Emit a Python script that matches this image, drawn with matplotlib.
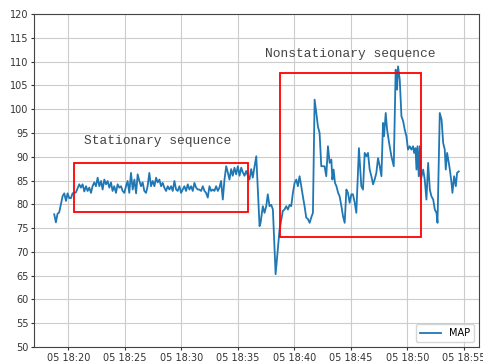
import pandas as pd
import matplotlib.pyplot as plt
import matplotlib.dates as mdates
from matplotlib.patches import Rectangle

# MAP samples: minutes after 18:00 and value
minutes = [
    18.76, 18.91, 19.05, 19.20, 19.50, 19.65, 19.80, 19.94, 20.09, 20.24, 20.38, 20.68,
    20.97, 21.12, 21.27, 21.42, 21.57, 21.71, 21.86, 22.01, 22.15, 22.30, 22.45, 22.60,
    22.75, 22.90, 23.04, 23.19, 23.34, 23.48, 23.63, 23.78, 23.92, 24.07, 24.22, 24.37,
    24.52, 24.67, 24.81, 24.96, 25.11, 25.25, 25.40, 25.55, 25.70, 25.85, 26.00, 26.14,
    26.29, 26.44, 26.58, 26.73, 26.88, 27.02, 27.17, 27.32, 27.47, 27.62, 27.77, 27.91,
    28.06, 28.21, 28.35, 28.50, 28.65, 28.80, 28.95, 29.10, 29.24, 29.39, 29.54, 29.68,
    29.83, 29.98, 30.12, 30.27, 30.42, 30.57, 30.72, 30.87, 31.01, 31.16, 31.31, 31.45,
    31.60, 31.75, 31.90, 32.05, 32.19, 32.34, 32.49, 32.64, 32.79, 32.93, 33.08, 33.23,
    33.37, 33.52, 33.67, 33.82, 33.97, 34.11, 34.26, 34.41, 34.55, 34.70, 34.85, 35.00,
    35.15, 35.30, 35.44, 35.59, 35.74, 35.89, 36.03, 36.18, 36.32, 36.48, 36.63, 36.92,
    37.01, 37.21, 37.36, 37.51, 37.65, 37.80, 37.95, 38.10, 38.34, 38.69, 38.98, 39.13,
    39.28, 39.43, 39.58, 39.72, 39.87, 40.02, 40.17, 40.31, 40.46, 40.61, 40.75, 40.90,
    41.05, 41.20, 41.35, 41.49, 41.64, 41.79, 41.94, 42.08, 42.23, 42.38, 42.52, 42.67,
    42.82, 42.97, 43.12, 43.27, 43.36, 43.47, 43.59, 43.72, 43.87, 44.00, 44.16, 44.30,
    44.45, 44.60, 44.74, 44.89, 45.04, 45.18, 45.34, 45.48, 45.71, 45.92, 46.07, 46.22,
    46.37, 46.51, 46.66, 46.81, 46.96, 47.10, 47.25, 47.40, 47.55, 47.70, 47.84, 47.93,
    48.08, 48.20, 48.38, 48.58, 48.79, 48.96, 49.08, 49.17, 49.32, 49.47, 49.62, 49.76,
    49.91, 50.05, 50.20, 50.35, 50.50, 50.59, 50.71, 50.80, 50.89, 51.00, 51.09, 51.18,
    51.39, 51.53, 51.68, 51.83, 51.98, 52.12, 52.28, 52.42, 52.57, 52.66, 52.86, 53.02,
    53.16, 53.30, 53.39, 53.51, 53.66, 53.75, 53.90, 53.98, 54.13, 54.28, 54.39, 54.54,
]
map_values = [
    77.9, 76.2, 78.0, 78.3, 81.7, 82.3, 80.7, 82.3, 81.3, 81.3, 82.3, 82.5,
    84.2, 83.5, 84.2, 82.7, 83.8, 82.8, 83.5, 82.4, 83.8, 84.6, 83.8, 85.6,
    83.8, 84.9, 83.1, 85.2, 84.2, 84.9, 83.5, 84.6, 82.8, 83.8, 82.4, 84.2,
    83.5, 83.8, 82.8, 82.4, 83.8, 84.9, 82.4, 86.6, 83.1, 85.2, 82.3, 86.3,
    84.9, 83.8, 84.6, 82.8, 82.4, 83.8, 86.6, 83.8, 84.9, 83.8, 85.6, 84.6,
    85.2, 83.8, 84.5, 83.5, 82.8, 83.8, 83.1, 83.8, 82.8, 84.9, 83.1, 82.8,
    83.8, 82.4, 83.1, 83.8, 82.8, 84.2, 83.1, 83.8, 82.8, 84.5, 83.5, 83.1,
    83.1, 82.8, 83.8, 82.8, 82.4, 81.4, 83.8, 82.8, 83.1, 82.8, 83.8, 82.8,
    83.5, 84.9, 81.0, 85.2, 88.0, 86.7, 85.2, 87.4, 86.0, 87.7, 86.3, 88.0,
    86.0, 87.7, 86.7, 86.0, 87.0, 86.0, 85.2, 87.4, 85.6, 88.0, 90.1, 75.4,
    76.1, 79.6, 78.2, 79.6, 82.1, 79.6, 79.9, 78.9, 65.3, 74.7, 78.6, 78.9,
    79.6, 78.9, 79.9, 79.6, 82.4, 84.5, 85.2, 83.8, 85.9, 83.8, 81.7, 79.6,
    77.2, 76.9, 76.1, 77.2, 78.2, 102.0, 99.2, 96.4, 95.0, 88.0, 88.0, 88.0,
    85.9, 92.2, 88.7, 89.4, 85.2, 87.3, 84.5, 83.8, 82.4, 81.7, 79.6, 77.5,
    76.1, 83.1, 82.4, 80.3, 82.1, 82.1, 80.3, 78.2, 91.8, 83.8, 83.1, 90.8,
    90.1, 90.8, 87.3, 85.9, 84.2, 85.2, 86.6, 89.7, 88.0, 85.9, 97.1, 94.3,
    99.2, 95.7, 92.9, 90.1, 88.0, 108.3, 104.1, 109.0, 106.2, 98.5, 97.5, 95.7,
    94.3, 91.5, 92.2, 91.5, 92.2, 90.8, 91.8, 87.3, 92.2, 85.9, 92.2, 85.2,
    87.3, 85.2, 81.0, 88.7, 83.1, 81.7, 81.0, 78.9, 78.2, 76.1, 99.2, 97.8,
    92.9, 91.5, 87.3, 90.8, 88.7, 87.3, 84.5, 82.4, 85.9, 83.8, 86.6, 86.9,
]

# Highlight boxes: (start min, end min, low, high)
stationary_box = (20.5, 35.88, 78.4, 88.7)
nonstationary_box = (38.75, 51.18, 73.2, 107.7)

base = pd.Timestamp("2021-01-05 18:00:00")
times = base + pd.to_timedelta(minutes, unit="m")

fig = plt.figure(figsize=(4.83, 3.63), dpi=100)
ax = fig.add_axes([0.0704, 0.0441, 0.9213, 0.9173])

ax.plot(times, map_values, color="#1f77b4", linewidth=1.3, label="MAP")

for (t0, t1, lo, hi) in [stationary_box, nonstationary_box]:
    x0 = mdates.date2num(base + pd.Timedelta(minutes=t0))
    x1 = mdates.date2num(base + pd.Timedelta(minutes=t1))
    ax.add_patch(Rectangle((x0, lo), x1 - x0, hi - lo, fill=False,
                           edgecolor="red", linewidth=1.3, zorder=3))

ax.text(base + pd.Timedelta(minutes=21.4), 93.2, "Stationary sequence",
        family="Liberation Mono", fontsize=9.3, color="#444444", va="center")
ax.text(base + pd.Timedelta(minutes=37.4), 111.6, "Nonstationary sequence",
        family="Liberation Mono", fontsize=9.3, color="#444444", va="center")

ax.set_ylim(50, 120)
ax.set_yticks(range(50, 121, 5))
ax.xaxis.set_major_locator(mdates.MinuteLocator(byminute=range(0, 60, 5)))
ax.xaxis.set_major_formatter(mdates.DateFormatter("%d %H:%M"))
ax.tick_params(labelsize=7, length=2.5, pad=1.5, colors="#333333")
ax.grid(True, color="#cccccc", linewidth=0.8)
for s in ax.spines.values():
    s.set_color("#444444")

ax.legend(loc="lower right", fontsize=7, handlelength=2.2)

fig.savefig("out.png", dpi=100)
